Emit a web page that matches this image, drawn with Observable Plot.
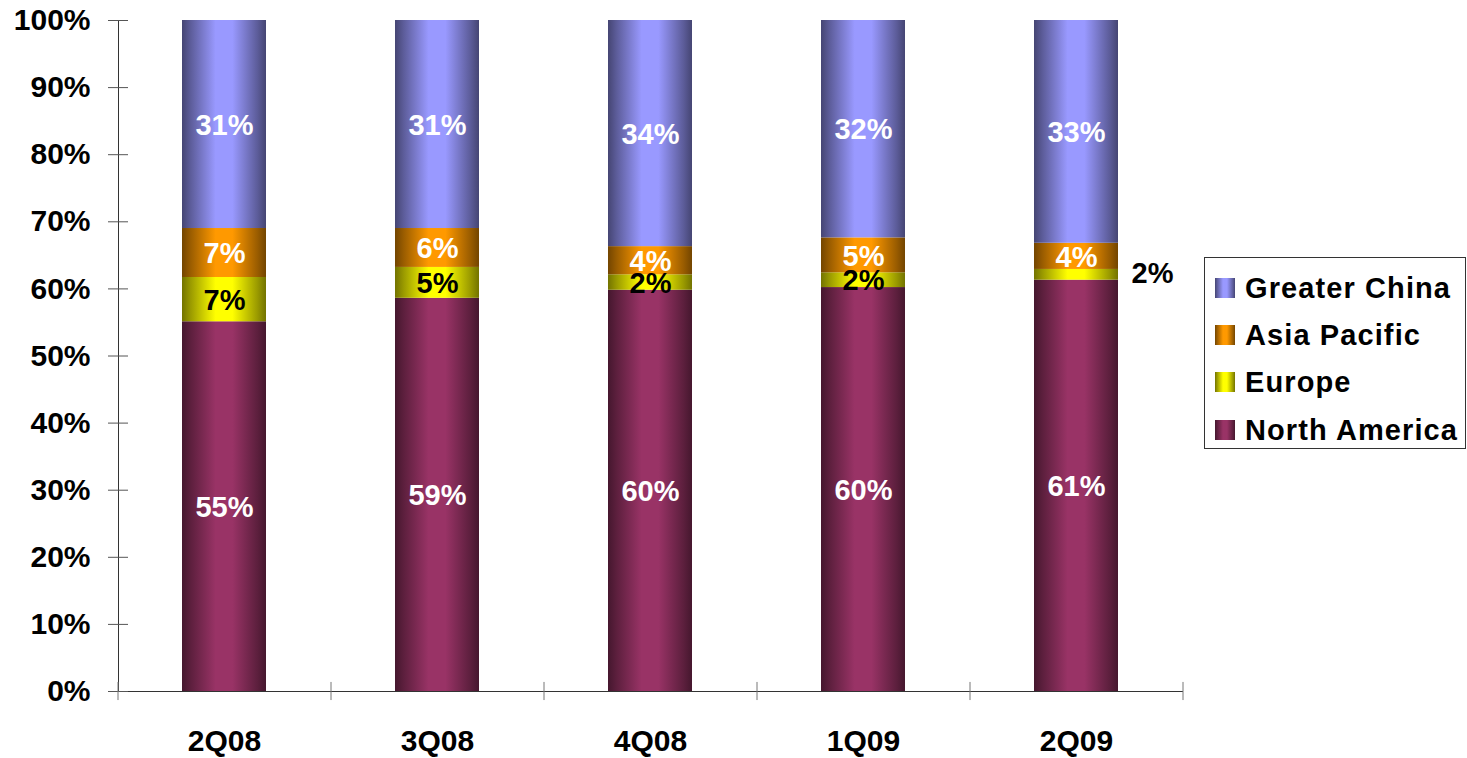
<!DOCTYPE html>
<html>
<head>
<meta charset="utf-8">
<script src="https://cdn.jsdelivr.net/npm/d3@7"></script>
<script src="https://cdn.jsdelivr.net/npm/@observablehq/plot@0.6"></script>
<style>
  html, body { margin: 0; padding: 0; background: #fff; }
  #wrap { position: relative; width: 1467px; height: 758px; font-family: "Liberation Sans", Arial, sans-serif; }
  #legend { position: absolute; left: 1204px; top: 257px; width: 262px; height: 192px; border: 1px solid #333; box-sizing: border-box; background: #fff; }
  .row { position: absolute; left: 10px; height: 30px; display: flex; align-items: center; font-weight: bold; font-size: 29px; letter-spacing: 1.1px; color: #000; white-space: nowrap; }
  .sw { width: 20px; height: 20px; margin-right: 10px; flex: none; }
</style>
</head>
<body>
<div id="wrap"><div id="chart"></div><div id="legend"></div></div>
<script>
// ---- data ----
const quarters = ["2Q08", "3Q08", "4Q08", "1Q09", "2Q09"];
const series = ["North America", "Europe", "Asia Pacific", "Greater China"];
const northAmerica = [55.1, 58.6, 59.8, 60.2, 61.3];
const europe       = [6.6, 4.6, 2.3, 2.2, 1.6];
const asiaPacific  = [7.3, 5.8, 4.2, 5.2, 3.9];
const greaterChina = [31.0, 31.0, 33.7, 32.4, 33.2];
const yTicks = [0, 10, 20, 30, 40, 50, 60, 70, 80, 90, 100];
const legendOrder = ["Greater China", "Asia Pacific", "Europe", "North America"];

// ---- styles ----
const baseColors = ["#993366", "#ffff00", "#ff9900", "#9999ff"];
const gradStops = [[0, 0.45], [0.1, 0.6], [0.4, 1], [0.6, 1], [0.9, 0.6], [1, 0.45]];

const valuesBySeries = [northAmerica, europe, asiaPacific, greaterChina];
const rows = [];
quarters.forEach((q, qi) => {
  series.forEach((s, si) => rows.push({quarter: q, series: s, value: valuesBySeries[si][qi]}));
});

const W = 1467, H = 758;
const mL = 118, mR = 284, mT = 20, mB = 67;
const step = (W - mL - mR) / quarters.length;
const pct = d => Math.round(d.value) + "%";

const plot = Plot.plot({
  width: W,
  height: H,
  marginLeft: mL,
  marginRight: mR,
  marginTop: mT,
  marginBottom: mB,
  style: {fontFamily: "'Liberation Sans', Arial, sans-serif", fontSize: "30px", fontWeight: "bold", color: "#000", background: "#fff"},
  x: {domain: quarters, paddingInner: 0.605, paddingOuter: 0.3025, label: null},
  y: {domain: [0, 100], label: null},
  color: {domain: series, range: series.map((s, i) => `url(#grad${i})`)},
  marks: [
    Plot.barY(rows, {x: "quarter", y: "value", fill: "series", z: "series", inset: 0}),
    Plot.text(rows, Plot.stackY({x: "quarter", y: "value", z: "series",
      text: d => d.series === "Europe" ? "" : pct(d), fill: "#fff", fontSize: 29, fontWeight: "bold", dy: 1})),
    Plot.text(rows, Plot.stackY({x: "quarter", y: "value", z: "series",
      text: d => d.series === "Europe" && d.value >= 2 ? pct(d) : "", fill: "#000", fontSize: 29, fontWeight: "bold", dy: 1})),
    Plot.text(rows, Plot.stackY({x: "quarter", y: "value", z: "series",
      text: d => d.series === "Europe" && d.value < 2 ? pct(d) : "", fill: "#000", fontSize: 29, fontWeight: "bold", dx: step * 0.357, dy: -1})),
    Plot.frame({anchor: "left", stroke: "#333"}),
    Plot.ruleY([0], {stroke: "#333"}),
    Plot.axisY(yTicks, {tickSize: 20, dx: 10, tickFormat: () => "", stroke: "#555", label: null}),
    Plot.axisY(yTicks, {tickSize: 0, tickPadding: 28, tickFormat: d => d + "%", fontSize: 30, fontWeight: "bold", fill: "#000", label: null}),
    Plot.ruleX(quarters, {x: d => d, dx: -step / 2, y1: -1.35, y2: 1.35, stroke: "#777"}),
    Plot.ruleX(quarters.slice(-1), {x: d => d, dx: step / 2, y1: -1.35, y2: 1.35, stroke: "#777"}),
    Plot.axisX({tickSize: 0, tickPadding: 38, fontSize: 30, fontWeight: "bold", fill: "#000", label: null})
  ]
});

// gradients
const defs = d3.select(plot).insert("defs", ":first-child");
baseColors.forEach((c, i) => {
  const g = defs.append("linearGradient").attr("id", `grad${i}`).attr("x1", 0).attr("x2", 1).attr("y1", 0).attr("y2", 0);
  gradStops.forEach(([o, k]) => g.append("stop").attr("offset", o).attr("stop-color", d3.interpolateRgb("#000", c)(k)));
});
document.getElementById("chart").appendChild(plot);

// legend
const legend = document.getElementById("legend");
const rowCenters = [30, 77, 124, 172];
legendOrder.forEach((s, i) => {
  const c = baseColors[series.indexOf(s)];
  const grad = `linear-gradient(to right, ${gradStops.map(([o, k]) => d3.interpolateRgb("#000", c)(k) + " " + (o * 100) + "%").join(", ")})`;
  const r = document.createElement("div");
  r.className = "row";
  r.style.top = (rowCenters[i] - 15) + "px";
  r.innerHTML = `<div class="sw" style="background:${grad}"></div><span>${s}</span>`;
  legend.appendChild(r);
});
</script>
</body>
</html>
